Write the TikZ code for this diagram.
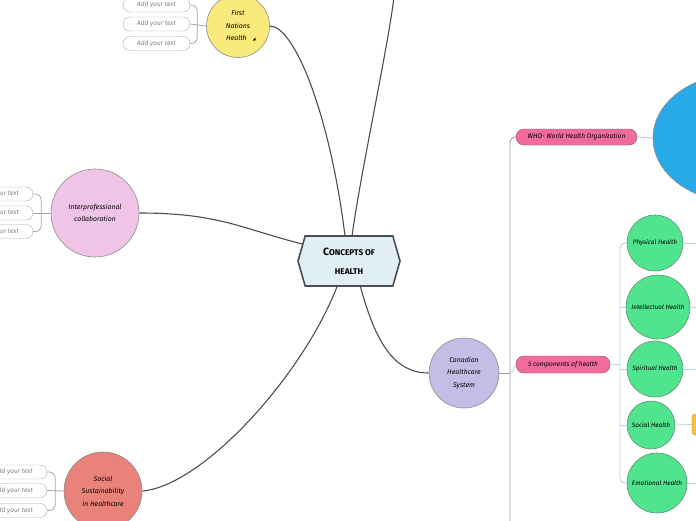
\documentclass[tikz,border=0pt]{standalone}
\usepackage{fontspec}
\setmainfont{Fira Sans}
\newfontfamily\symfont{DejaVu Sans}
\usetikzlibrary{shapes.symbols,shapes.geometric,calc}
\definecolor{hexfill}{HTML}{E1EEF4}
\definecolor{hexdraw}{HTML}{464F57}
\definecolor{fnyellow}{HTML}{F9EA7E}
\definecolor{ippink}{HTML}{F0C4E7}
\definecolor{sssalmon}{HTML}{E9837A}
\definecolor{chslav}{HTML}{C4BDE6}
\definecolor{pillpink}{HTML}{F16C9C}
\definecolor{pillpinkd}{HTML}{9A4666}
\definecolor{ellblue}{HTML}{28AAE9}
\definecolor{hgreen}{HTML}{51E48E}
\definecolor{hgreend}{HTML}{5E8F70}
\definecolor{oranger}{HTML}{F2C23A}
\definecolor{lblue}{HTML}{B8D3EA}
\definecolor{conncol}{HTML}{4D4D4D}
\definecolor{circd}{HTML}{8C8C8C}
\newcommand\fakesc[2]{{\fontsize{10.5}{10.5}\selectfont #1}{\fontsize{8.3}{8.3}\selectfont #2}}
\begin{document}
\begin{tikzpicture}[x=1pt,y=-1pt,
  conn/.style={draw=conncol,line width=1.1pt},
  lb/.style={draw=lblue,line width=0.9pt},
  trunk/.style={draw=gray!75,line width=0.9pt},
  br/.style={draw=gray!70,line width=0.8pt,rounded corners=6pt},
  hexnode/.style={signal,signal to=west and east,signal pointer angle=148,
    minimum width=102pt,minimum height=50pt,inner sep=0pt,fill=hexfill,
    draw=hexdraw,line width=1.6pt,align=center,
    font=\fontsize{8.3}{19}\selectfont\bfseries},
  topic/.style={circle,draw=circd,line width=0.6pt,inner sep=0pt,align=center,
    font=\fontsize{6.9}{12.5}\selectfont\itshape},
  addpill/.style={draw=gray!65,fill=white,rounded corners=7pt,minimum width=67pt,
    minimum height=14pt,inner sep=0pt,text=gray,font=\fontsize{6.5}{7}\selectfont\itshape},
  pinkpill/.style={draw=pillpinkd,fill=pillpink,rounded corners=8pt,inner sep=0pt,
    font=\fontsize{6.6}{7}\selectfont\itshape},
  green/.style={topic,fill=hgreen,draw=hgreend,font=\fontsize{6.4}{7}\selectfont\itshape}
]
\useasboundingbox (0,0) rectangle (696,520);
\clip (0,0) rectangle (696,520);

% central
\node[hexnode] (hex) at (349,261) {\fakesc{C}{ONCEPTS OF}\\\fakesc{}{HEALTH}};

% First Nations
\node[topic,fill=fnyellow,minimum size=63pt] (fn) at (238,26)
  {First\\Nations\\\hspace*{6pt}Health\hspace{6pt}{\symfont\fontsize{4}{4}\selectfont ◢}};
\node[addpill] (fn1) at (156.5,5) {Add your text};
\node[addpill] (fn2) at (156.5,24) {Add your text};
\node[addpill] (fn3) at (156.5,43.5) {Add your text};
\draw[br] (fn1.east) -| ($(fn2.east)+(7,0)$) |- (fn3.east);
\draw[draw=gray!70,line width=0.8pt] (fn2.east) -- (fn.west);

% Interprofessional
\node[topic,fill=ippink,minimum size=88pt] (ip) at (95,213)
  {Interprofessional\\[-0.5pt]collaboration};
\node[addpill] (ip1) at (-0.5,194) {Add your text};
\node[addpill] (ip2) at (-0.5,213) {Add your text};
\node[addpill] (ip3) at (-0.5,231.5) {Add your text};
\draw[br] (ip1.east) -| ($(ip2.east)+(8,0)$) |- (ip3.east);
\draw[draw=gray!70,line width=0.8pt] (ip2.east) -- (ip.west);

% Social Sustainability
\node[topic,fill=sssalmon,minimum size=78pt] (ss) at (103,491)
  {Social\\Sustainability\\in Healthcare};
\node[addpill] (ss1) at (13.5,472) {Add your text};
\node[addpill] (ss2) at (13.5,490.5) {Add your text};
\node[addpill] (ss3) at (13.5,510.5) {Add your text};
\draw[br] (ss1.east) -| ($(ss2.east)+(8,0)$) |- (ss3.east);
\draw[draw=gray!70,line width=0.8pt] (ss2.east) -- (ss.west);

% Canadian Healthcare System
\node[topic,fill=chslav,minimum size=70pt] (chs) at (464,373)
  {Canadian\\Healthcare\\System};

% off-picture node
\coordinate (offtop) at (394,-3);

% main connectors
\draw[conn] (fn.east) .. controls +(25,0) and +(-15,-120) .. (hex.99);
\draw[conn] (hex.83) .. controls +(8,-60) and +(-6,50) .. (offtop);
\draw[conn] (ip.east) .. controls +(80,0) and +(-60,-15) .. (hex.160);
\draw[conn] (ss.east) .. controls +(60,-5) and +(-35,90) .. (hex.245);
\draw[conn] (hex.294) .. controls +(15,55) and +(-35,0) .. (chs.west);

% right side
\node[pinkpill,minimum width=121pt,minimum height=16pt] (who) at (576.5,137)
  {WHO- World Health Organization};
\node[pinkpill,minimum width=94pt,minimum height=17pt] (comp) at (563,364.5)
  {5 components of health};
\node[ellipse,fill=ellblue,draw=circd,line width=0.6pt,minimum width=170pt,
  minimum height=128pt] (whoimg) at (738,138) {};

\coordinate (trunkbot) at (510,530);
\coordinate (jn) at (510,373);
\draw[trunk,rounded corners=6pt] (who.west) -| (trunkbot);
\draw[trunk] (chs.east) -- (jn);
\draw[lb] (jn) .. controls +(5,0) and +(-3,0) .. (comp.west);
\draw[draw=gray!45,line width=0.9pt] (who.east) -- (whoimg.west);

% five components
\node[green,minimum size=56pt] (phys) at (655,243) {Physical Health};
\node[green,minimum size=64pt] (intel) at (658,307) {Intellectual Health};
\node[green,minimum size=56pt] (spir) at (655,369) {Spiritual Health};
\node[green,minimum size=48pt] (soc) at (651,425) {Social Health};
\node[green,minimum size=60pt] (emo) at (657,483) {Emotional Health};
\node[fill=oranger,draw=oranger!80!black,rounded corners=3pt,minimum width=20pt,
  minimum height=21pt,inner sep=0pt] (socimg) at (702,424.5) {};

\coordinate (sp) at (620,364.5);
\draw[lb,rounded corners=5pt] (phys.west) -| (sp) |- (emo.west);
\draw[lb] (comp.east) -- (sp);
\draw[lb] (intel.west) -- (intel.west -| sp);
\draw[lb] (spir.west) -- (spir.west -| sp);
\draw[lb] (soc.west) -- (soc.west -| sp);

\coordinate (physR) at (700,243);
\coordinate (intelR) at (700,307);
\coordinate (spirR) at (700,369);
\coordinate (emoR) at (700,483);
\draw[lb] (phys.east) -- (physR);
\draw[lb] (intel.east) -- (intelR);
\draw[lb] (spir.east) -- (spirR);
\draw[lb] (soc.east) -- (socimg.west);
\draw[lb] (emo.east) -- (emoR);
\end{tikzpicture}
\end{document}
